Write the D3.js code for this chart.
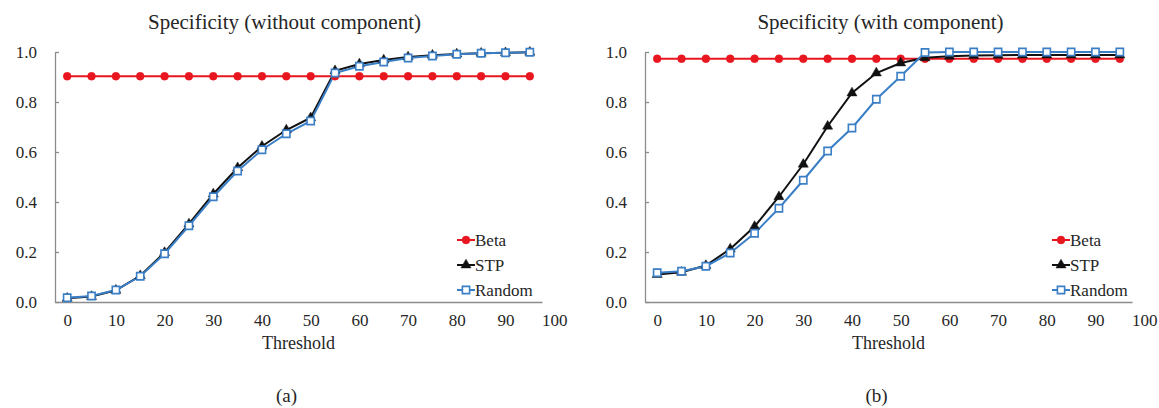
<!DOCTYPE html>
<html>
<head>
<meta charset="utf-8">
<script src="https://cdn.jsdelivr.net/npm/d3@7"></script>
<style>
  body { margin: 0; background: #fff; }
</style>
</head>
<body>
<svg id="chart" width="1159" height="408"></svg>
<script>
// thresholds (categories) and x tick labels
const thresholds = [0, 5, 10, 15, 20, 25, 30, 35, 40, 45, 50, 55, 60, 65, 70, 75, 80, 85, 90, 95];
const xTickLabels = [0, 10, 20, 30, 40, 50, 60, 70, 80, 90, 100];
const yTickLabels = [0, 0.2, 0.4, 0.6, 0.8, 1.0];
const seriesNames = ['Beta', 'STP', 'Random'];

// (a) without component
const betaA = [0.903, 0.903, 0.903, 0.903, 0.903, 0.903, 0.903, 0.903, 0.903, 0.903,
               0.903, 0.903, 0.903, 0.903, 0.903, 0.903, 0.903, 0.903, 0.903, 0.903];
const stpA = [0.015, 0.022, 0.047, 0.105, 0.198, 0.312, 0.432, 0.537, 0.623, 0.688,
              0.737, 0.925, 0.952, 0.968, 0.980, 0.987, 0.992, 0.995, 0.997, 0.999];
const randomA = [0.017, 0.024, 0.048, 0.103, 0.193, 0.305, 0.421, 0.524, 0.609, 0.673,
                 0.724, 0.916, 0.943, 0.960, 0.976, 0.984, 0.991, 0.995, 0.997, 0.999];

// (b) with component
const betaB = [0.973, 0.973, 0.973, 0.973, 0.973, 0.973, 0.973, 0.973, 0.973, 0.973,
               0.973, 0.973, 0.973, 0.973, 0.973, 0.973, 0.973, 0.973, 0.973, 0.973];
const stpB = [0.110, 0.119, 0.146, 0.212, 0.302, 0.421, 0.551, 0.703, 0.836, 0.916,
              0.956, 0.977, 0.983, 0.986, 0.987, 0.988, 0.988, 0.988, 0.988, 0.988];
const randomB = [0.117, 0.123, 0.143, 0.196, 0.275, 0.375, 0.487, 0.604, 0.696, 0.811,
                 0.903, 0.998, 1.0, 1.0, 1.0, 1.0, 1.0, 1.0, 1.0, 1.0];

const colors = { Beta: '#e8161e', STP: '#111111', Random: '#3a7ec6' };
const serif = '"Liberation Serif", serif';

const svg = d3.select('#chart');
svg.append('rect').attr('width', 1159).attr('height', 408).attr('fill', '#fff');

//styles a text selection
const setFont = (sel, size) => sel
  .style('font-family', serif)
  .style('font-size', size + 'px')
  .style('fill', '#262626');

//draws one panel; left = x of y-axis line
const drawPanel = (cfg) => {
  const g = svg.append('g');

  const xScale = d3.scaleLinear().domain([-2.5, 97.5]).range([cfg.left, cfg.left + 487]);
  const yScale = d3.scaleLinear().domain([0, 1]).range([302, 52]);

  // x axis (labels only, no tick marks)
  const xAxisG = g.append('g')
    .attr('transform', 'translate(0,302)')
    .call(d3.axisBottom(xScale).tickValues(xTickLabels).tickSize(0).tickPadding(12));
  xAxisG.select('.domain').attr('stroke', '#8c8c8c').attr('stroke-width', 1.3);

  // y axis, ticks pointing inward
  const yAxisG = g.append('g')
    .attr('transform', `translate(${cfg.left},0)`)
    .call(d3.axisLeft(yScale).tickValues(yTickLabels).tickFormat(d3.format('.1f'))
      .tickSizeInner(-4).tickSizeOuter(0).tickPadding(18));
  yAxisG.select('.domain').attr('stroke', '#8c8c8c').attr('stroke-width', 1.3);
  yAxisG.selectAll('.tick line').attr('stroke', '#8c8c8c').attr('stroke-width', 1.3);

  g.selectAll('.tick text').call(setFont, 17);

  const line = d3.line()
    .x((d, i) => xScale(thresholds[i]))
    .y(d => yScale(d));

  const series = [
    { name: 'Beta', values: cfg.beta },
    { name: 'STP', values: cfg.stp },
    { name: 'Random', values: cfg.random }
  ];

  series.forEach(s => {
    g.append('path')
      .attr('d', line(s.values))
      .attr('fill', 'none')
      .attr('stroke', colors[s.name])
      .attr('stroke-width', 2);
  });

  const sym = {
    Beta: d3.symbol().type(d3.symbolCircle).size(48),
    STP: d3.symbol().type(d3.symbolTriangle).size(44),
    Random: d3.symbol().type(d3.symbolSquare).size(52)
  };

  const drawMarker = (sel, name) => {
    sel.attr('d', sym[name]())
      .attr('fill', name === 'Random' ? '#fff' : colors[name])
      .attr('stroke', colors[name])
      .attr('stroke-width', name === 'Random' ? 1.6 : 0.5);
  };

  series.forEach(s => {
    g.append('g').selectAll('path').data(s.values)
      .enter().append('path')
        .attr('transform', (d, i) => `translate(${xScale(thresholds[i])},${yScale(d)})`)
        .call(drawMarker, s.name);
  });

  // legend
  const legend = g.append('g');
  seriesNames.forEach((name, i) => {
    const ly = 240 + i * 25;
    legend.append('line')
      .attr('x1', cfg.legendX - 9).attr('x2', cfg.legendX + 9)
      .attr('y1', ly).attr('y2', ly)
      .attr('stroke', colors[name]).attr('stroke-width', 2);
    legend.append('path')
      .attr('transform', `translate(${cfg.legendX},${ly})`)
      .call(drawMarker, name);
    legend.append('text')
      .attr('x', cfg.legendX + 9)
      .attr('y', ly)
      .attr('dy', '0.35em')
      .text(name)
      .call(setFont, 17);
  });

  const midX = xScale(47.5);

  g.append('text')
    .attr('x', midX + cfg.titleDx)
    .attr('y', 29)
    .attr('text-anchor', 'middle')
    .text(cfg.title)
    .call(setFont, 21);

  g.append('text')
    .attr('x', midX)
    .attr('y', 349)
    .attr('text-anchor', 'middle')
    .text('Threshold')
    .call(setFont, 18);

  g.append('text')
    .attr('x', midX - 12)
    .attr('y', 402)
    .attr('text-anchor', 'middle')
    .text(cfg.caption)
    .call(setFont, 19);
};

drawPanel({ left: 55, legendX: 466, titleDx: -14, title: 'Specificity (without component)', caption: '(a)',
  beta: betaA, stp: stpA, random: randomA });
drawPanel({ left: 645, legendX: 1061, titleDx: -8, title: 'Specificity (with component)', caption: '(b)',
  beta: betaB, stp: stpB, random: randomB });
</script>
</body>
</html>
